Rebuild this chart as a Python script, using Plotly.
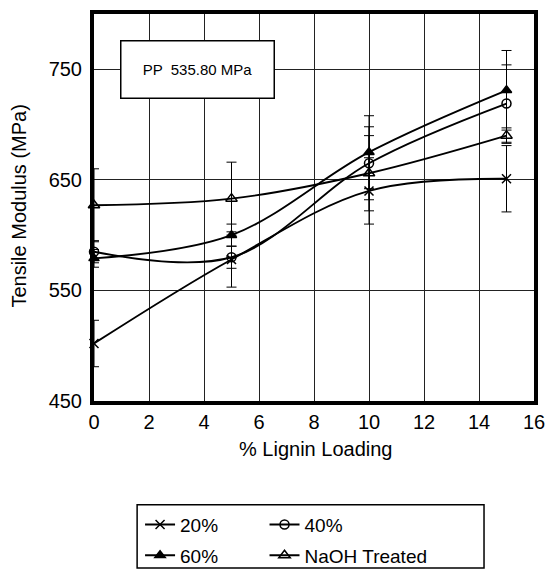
import plotly.graph_objects as go

# ---- data ----
lignin = [0, 5, 10, 15]
series_names = ["20%", "40%", "60%", "NaOH Treated"]
mod_20 = [502, 578, 640, 651]
mod_40 = [585, 580, 665, 719]
mod_60 = [579, 600, 675, 731]
mod_naoh = [627, 633, 656, 690]
err_20 = [21, 25, 30, 30]
err_40 = [10, 10, 33, 35]
err_60 = [8, 10, 33, 36]
err_naoh = [33, 33, 34, 7]
x_ticks = [0, 2, 4, 6, 8, 10, 12, 14, 16]
y_ticks = [450, 550, 650, 750]
pp_note = "PP  535.80 MPa"

FONT = "Liberation Sans, Arial, sans-serif"

# plot-area pixel geometry
L, R, T, B = 94, 543, 10, 413
W, H = 555, 585
pw, ph = R - L, B - T

def px(xp):
    return (xp - L) / pw

def py(yp):
    return (B - yp) / ph

fig = go.Figure()

specs = [
    (series_names[0], mod_20, err_20, "x-thin-open", 9, "legend"),
    (series_names[1], mod_40, err_40, "circle-open", 9, "legend2"),
    (series_names[2], mod_60, err_60, "triangle-up", 9, "legend"),
    (series_names[3], mod_naoh, err_naoh, "triangle-up-open", 10, "legend2"),
]
for i, (name, ys, es, sym, sz, lg) in enumerate(specs):
    fig.add_trace(go.Scatter(
        x=lignin, y=ys, name=name, mode="lines+markers",
        line=dict(color="black", width=1.9, shape="spline"),
        marker=dict(symbol=sym, size=sz, color="black",
                    line=dict(color="black", width=1.5)),
        error_y=dict(type="data", array=es, visible=True, color="black",
                     thickness=1, width=5),
        cliponaxis=False, legend=lg, legendgroup=name,
    ))

fig.update_layout(
    width=W, height=H,
    margin=dict(l=L, r=W - R, t=T, b=H - B),
    paper_bgcolor="white", plot_bgcolor="white",
    font=dict(family=FONT, color="black", size=20),
    showlegend=True,
    legend=dict(x=px(141), y=py(522), xanchor="left", yanchor="top",
                orientation="v", bgcolor="rgba(0,0,0,0)", borderwidth=0,
                font=dict(size=19, family=FONT), itemwidth=30,
                tracegroupgap=3),
    legend2=dict(x=px(268), y=py(522), xanchor="left", yanchor="top",
                 orientation="v", bgcolor="rgba(0,0,0,0)", borderwidth=0,
                 font=dict(size=19, family=FONT), itemwidth=30,
                 tracegroupgap=3),
    xaxis=dict(range=[0, 16], tickvals=x_ticks, ticktext=[str(v) for v in x_ticks],
               showgrid=True, gridcolor="#222", gridwidth=1,
               showline=True, linecolor="black", linewidth=4, mirror=True,
               ticks="", zeroline=False, tickfont=dict(size=20)),
    yaxis=dict(range=[450, 800], tickvals=y_ticks, ticktext=[str(v) for v in y_ticks],
               showgrid=True, gridcolor="#222", gridwidth=1,
               showline=True, linecolor="black", linewidth=4, mirror=True,
               ticks="", zeroline=False, tickfont=dict(size=20),
               ticklabelstandoff=4),
    annotations=[
        dict(x=3.78, y=750, xref="x", yref="y", text=pp_note, showarrow=False,
             font=dict(size=15, family=FONT), bgcolor="white",
             bordercolor="black", borderwidth=1.5, borderpad=1,
             width=150, height=54, align="center", valign="middle"),
        dict(x=px(320), y=py(463), xref="paper", yref="paper",
             text="% Lignin Loading", showarrow=False,
             font=dict(size=20, family=FONT), xanchor="center", yanchor="middle"),
        dict(x=px(18), y=py(210), xref="paper", yref="paper",
             text="Tensile Modulus (MPa)", showarrow=False, textangle=-90,
             font=dict(size=20, family=FONT), xanchor="center", yanchor="middle"),
    ],
    shapes=[
        dict(type="rect", xref="paper", yref="paper",
             x0=px(138), x1=px(492), y0=py(587), y1=py(521),
             line=dict(color="black", width=1.5), fillcolor="rgba(0,0,0,0)"),
    ],
)

fig.write_html("out.html")
